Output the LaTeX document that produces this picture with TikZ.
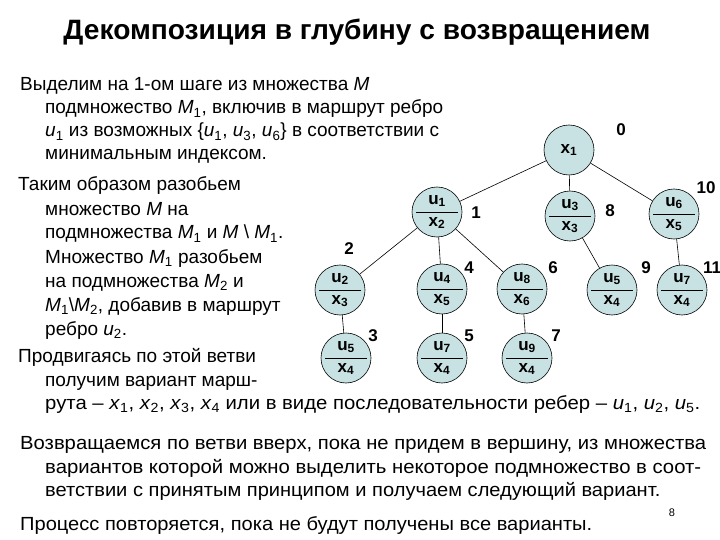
\documentclass[tikz,border=0pt]{standalone}
\usepackage{fontspec}
\setmainfont{Liberation Sans}
\usepackage{graphicx}
\definecolor{nodefill}{RGB}{200,226,228}
\tikzset{
  vnode/.style={circle, draw=black, line width=0.6pt, fill=nodefill, minimum size=50pt, inner sep=0pt},
  edge/.style={draw=black, line width=0.6pt},
  num/.style={font=\bfseries\fontsize{17}{20}\selectfont, inner sep=0pt},
  lbl/.style={font=\bfseries\fontsize{17}{20}\selectfont, inner sep=0pt},
  txt/.style={anchor=base west, inner sep=0pt, font=\fontsize{19}{22}\selectfont},
}
\newcommand{\iv}[2]{\textit{#1}\textsubscript{#2}}
\newcommand{\vtwo}[5]{%
  \node[vnode] (#1) at (#2,#3) {};
  \draw[line width=0.6pt] ([xshift=-21pt]#1.center) -- ([xshift=21pt]#1.center);
  \node[lbl] (#1u) at ([yshift=11pt]#1.center) {u\textsubscript{#4}};
  \node[lbl] (#1x) at ([yshift=-11pt]#1.center) {x\textsubscript{#5}};
}
\begin{document}
\begin{tikzpicture}[x=1pt,y=-1pt]
\useasboundingbox (0,0) rectangle (720,540);
% title
\node[inner sep=0pt] (title) at (357,32) {\resizebox{587pt}{\height}{\bfseries\fontsize{28}{32}\selectfont Декомпозиция в глубину с возвращением}};
% text
\node[txt] (l1) at (20,91) {Выделим на 1-ом шаге из множества \textit{M}};
\node[txt] (l2) at (45,114) {подмножество \iv{M}{1}, включив в маршрут ребро};
\node[txt] (l3) at (45,137) {\iv{u}{1} из возможных \{\iv{u}{1}, \iv{u}{3}, \iv{u}{6}\} в соответствии с};
\node[txt] (l4) at (45,160) {минимальным индексом.};
\node[txt] (l5) at (18,191) {Таким образом разобьем};
\node[txt] (l6) at (45,215) {множество \textit{M} на};
\node[txt] (l7) at (45,239) {подмножества \iv{M}{1} и \textit{M} \textbackslash\ \iv{M}{1}.};
\node[txt] (l8) at (45,263) {Множество \iv{M}{1} разобьем};
\node[txt] (l9) at (45,287) {на подмножества \iv{M}{2} и};
\node[txt] (l10) at (45,311) {\iv{M}{1}\textbackslash\iv{M}{2}, добавив в маршрут};
\node[txt] (l11) at (45,335) {ребро \iv{u}{2}.};
\node[txt] (l12) at (18,362) {Продвигаясь по этой ветви};
\node[txt] (l13) at (45,386) {получим вариант марш-};
\node[txt] (l14) at (45,409) {\resizebox{655pt}{\height}{рута – \iv{x}{1}, \iv{x}{2}, \iv{x}{3}, \iv{x}{4} или в виде последовательности ребер – \iv{u}{1}, \iv{u}{2}, \iv{u}{5}.}};
\node[txt] (l15) at (20,449) {\resizebox{686pt}{\height}{Возвращаемся по ветви вверх, пока не придем в вершину, из множества}};
\node[txt] (l16) at (45,473) {\resizebox{656pt}{\height}{вариантов которой можно выделить некоторое подмножество в соот-}};
\node[txt] (l17) at (45,496) {\resizebox{615pt}{\height}{ветствии с принятым принципом и получаем следующий вариант.}};
\node[txt] (l18) at (20,530) {\resizebox{572pt}{\height}{Процесс повторяется, пока не будут получены все варианты.}};
\node[inner sep=0pt, font=\fontsize{11}{13}\selectfont] (pg) at (672,513) {8};
% tree
\node[vnode] (n0) at (569,150) {};
\node[lbl] (n0x) at (n0.center) {x\textsubscript{1}};
\vtwo{n1}{437}{212}{1}{2}
\vtwo{n8}{570}{216}{3}{3}
\vtwo{n10}{674}{214}{6}{5}
\vtwo{n2}{340}{290}{2}{3}
\vtwo{n4}{442}{289}{4}{5}
\vtwo{n6}{522}{289}{8}{6}
\vtwo{n9}{612}{290}{5}{4}
\vtwo{n11}{682}{290}{7}{4}
\vtwo{n3}{346}{358}{5}{4}
\vtwo{n5}{442}{358}{7}{4}
\vtwo{n7}{527}{358}{9}{4}
\draw[edge] (n0) -- (n1);
\draw[edge] (n0) -- (n8);
\draw[edge] (n0) -- (n10);
\draw[edge] (n1) -- (n2);
\draw[edge] (n1) -- (n4);
\draw[edge] (n1) -- (n6);
\draw[edge] (n8) -- (n9);
\draw[edge] (n10) -- (n11);
\draw[edge] (n2) -- (n3);
\draw[edge] (n4) -- (n5);
\draw[edge] (n6) -- (n7);
% numbers
\node[num] (c0) at (621,130) {0};
\node[num] (c1) at (476,213) {1};
\node[num] (c8) at (610,211) {8};
\node[num] (c10) at (706,188) {10};
\node[num] (c2) at (349,249) {2};
\node[num] (c4) at (469,268) {4};
\node[num] (c6) at (553,268) {6};
\node[num] (c9) at (646,268) {9};
\node[num] (c11) at (712,268) {11};
\node[num] (c3) at (373,336) {3};
\node[num] (c5) at (469,336) {5};
\node[num] (c7) at (556,336) {7};
\end{tikzpicture}
\end{document}
